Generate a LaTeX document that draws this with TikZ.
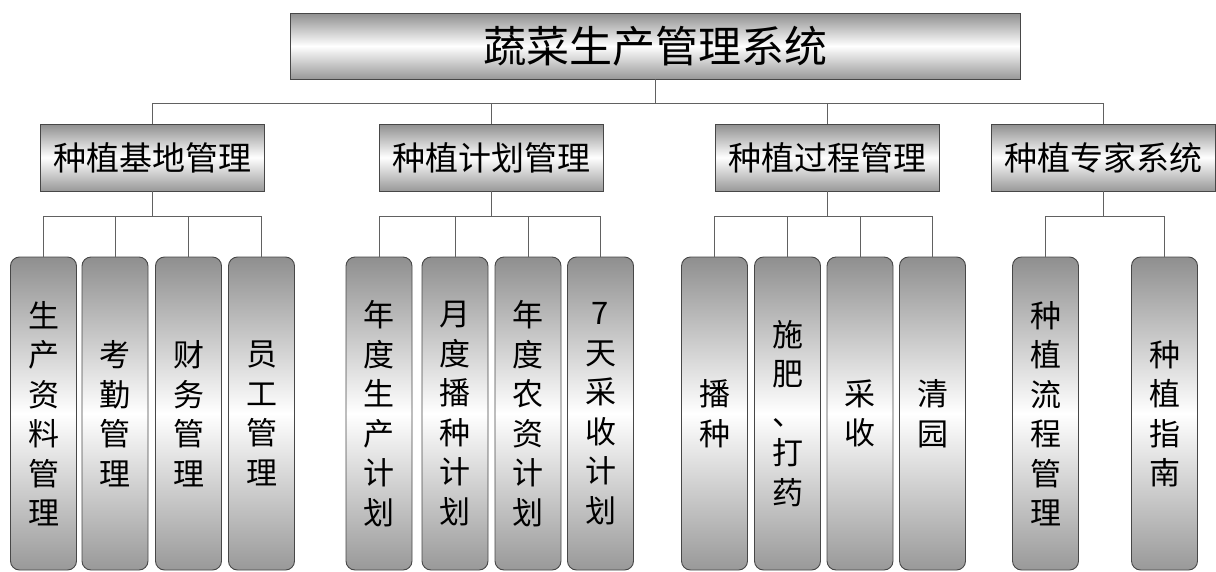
\documentclass[tikz,border=0pt]{standalone}
\usepackage{fontspec}
\setmainfont{Noto Sans CJK SC}
\begin{document}
\begin{tikzpicture}[x=1pt,y=-1pt,
  conn/.style={draw=black!62, line width=0.9pt},
  silver/.style={draw=black!72, line width=0.9pt, top color=black!44, bottom color=black!40, middle color=white},
  topbox/.style={silver, minimum width=730pt, minimum height=66pt, inner sep=0pt, font=\fontsize{43}{50}\selectfont},
  midbox/.style={silver, minimum width=224pt, minimum height=67pt, inner sep=0pt, font=\fontsize{33}{40}\selectfont},
  leafbox/.style={silver, rounded corners=9pt, minimum width=66pt, minimum height=313pt, inner sep=0pt, align=center, font=\fontsize{31}{39.5}\selectfont}]
\useasboundingbox (0,0) rectangle (1216,571);

\node[topbox] (top) at (655,46) {蔬菜生产管理系统};

\node[midbox] (A) at (152,157.5) {种植基地管理};
\node[midbox] (B) at (491.5,157.5) {种植计划管理};
\node[midbox] (C) at (827.5,157.5) {种植过程管理};
\node[midbox] (D) at (1103.5,157.5) {种植专家系统};

% group 1
\node[leafbox] (a1) at (43.5,413.5) {生\\产\\资\\料\\管\\理};
\node[leafbox] (a2) at (115,413.5) {考\\勤\\管\\理};
\node[leafbox] (a3) at (188.5,413.5) {财\\务\\管\\理};
\node[leafbox] (a4) at (261.5,413.5) {员\\工\\管\\理};
% group 2
\node[leafbox] (b1) at (379,413.5) {年\\度\\生\\产\\计\\划};
\node[leafbox] (b2) at (455,413.5) {月\\度\\播\\种\\计\\划};
\node[leafbox] (b3) at (528,413.5) {年\\度\\农\\资\\计\\划};
\node[leafbox] (b4) at (600.5,413.5) {7\\天\\采\\收\\计\\划};
% group 3
\node[leafbox] (c1) at (714.5,413.5) {播\\种};
\node[leafbox] (c2) at (787.5,413.5) {施\\肥\\、\\打\\药};
\node[leafbox] (c3) at (860,413.5) {采\\收};
\node[leafbox] (c4) at (932.5,413.5) {清\\园};
% group 4
\node[leafbox] (d1) at (1045.5,413.5) {种\\植\\流\\程\\管\\理};
\node[leafbox] (d2) at (1164.5,413.5) {种\\植\\指\\南};

% connectors level 1 -> 2
\draw[conn] (top.south) -- ++(0,24) coordinate (h0);
\draw[conn] (A.north) |- (h0) -| (D.north);
\draw[conn] (B.north) -- (B.north |- h0);
\draw[conn] (C.north) -- (C.north |- h0);

% connectors level 2 -> 3
\foreach \p/\f/\l/\m in {A/a1/a4/{a2,a3}, B/b1/b4/{b2,b3}, C/c1/c4/{c2,c3}} {
  \draw[conn] (\p.south) -- ++(0,25) coordinate (h\p);
  \draw[conn] (\f.north) |- (h\p) -| (\l.north);
  \foreach \q in \m { \draw[conn] (\q.north) -- (\q.north |- h\p); }
}
\draw[conn] (D.south) -- ++(0,25) coordinate (hD);
\draw[conn] (d1.north) |- (hD) -| (d2.north);
\end{tikzpicture}
\end{document}
